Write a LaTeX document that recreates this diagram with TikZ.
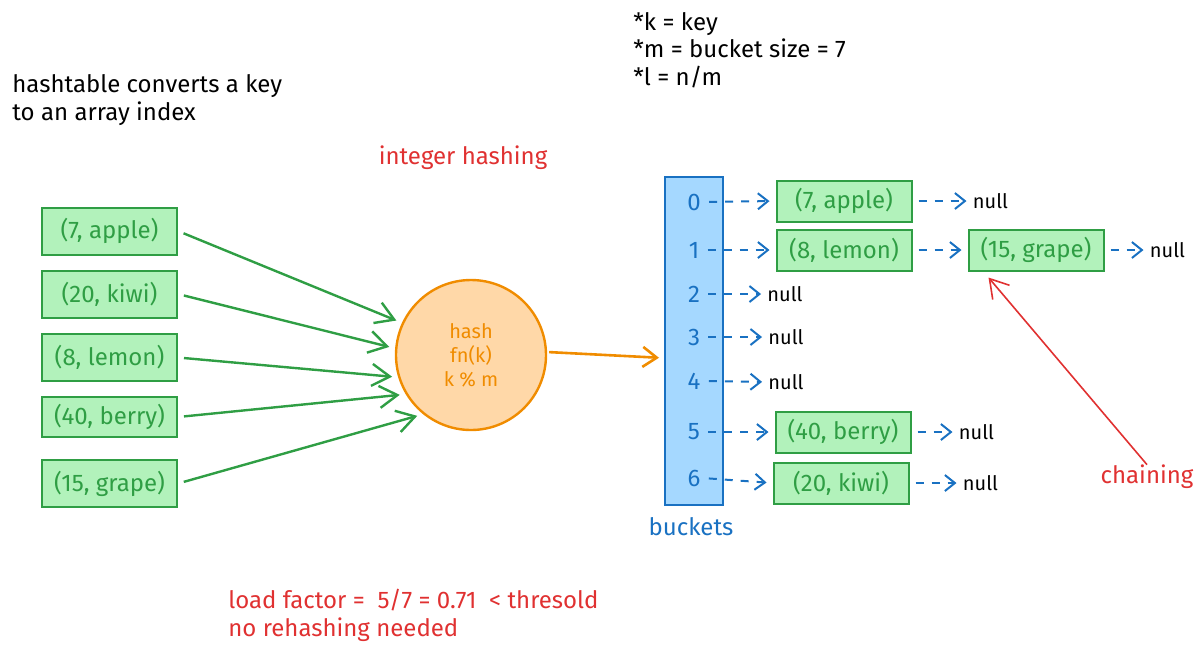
\documentclass[tikz,border=0pt]{standalone}
\usepackage{fontspec}
\setmainfont{Fira Sans}
\usetikzlibrary{arrows.meta,positioning}

\definecolor{pairgreen}{HTML}{2F9E44}
\definecolor{pairfill}{HTML}{B2F2BB}
\definecolor{bucketblue}{HTML}{1971C2}
\definecolor{bucketfill}{HTML}{A5D8FF}
\definecolor{hashorange}{HTML}{F08C00}
\definecolor{hashfill}{HTML}{FFD8A8}
\definecolor{notered}{HTML}{E03131}

\begin{document}
\begin{tikzpicture}[
        x=0.5pt, y=-0.5pt,
        pair/.style={draw=pairgreen, fill=pairfill, line width=1pt, text=pairgreen, inner sep=0pt,
          minimum width=67.5pt, minimum height=23.5pt, font=\fontsize{12}{14}\selectfont},
        link/.style={pair, minimum height=20.5pt},
        nil/.style={inner sep=0pt, font=\fontsize{10}{12}\selectfont},
        idx/.style={text=bucketblue, inner sep=1pt, font=\fontsize{12}{14}\selectfont},
        note/.style={anchor=base west, align=left, inner sep=0pt, font=\fontsize{12}{13.75}\selectfont},
        remark/.style={text=notered, inner sep=0pt, font=\fontsize{12}{14}\selectfont},
        feed/.style={draw=pairgreen, line width=1.2pt, shorten <=3pt, shorten >=3pt,
          -{Straight Barb[length=9pt, width=11pt, line width=1.2pt]}},
        hop/.style={draw=bucketblue, line width=1pt, dash pattern=on 4pt off 4pt, shorten <=3pt, shorten >=3pt,
          -{Straight Barb[length=5pt, width=8pt, line width=1pt]}},
        hashout/.style={draw=hashorange, line width=1.3pt, shorten <=1pt, shorten >=2.5pt,
          -{Straight Barb[length=7pt, width=10pt, line width=1.3pt]}},
        pointer/.style={draw=notered, line width=0.8pt,
          -{Straight Barb[length=9pt, width=11pt, line width=0.8pt]}}
      ]
        \useasboundingbox (0,0) rectangle (1200,655);

        % notes (base = last line)
        \node[note] (intro) at (12,120) {hashtable converts a key\\to an array index};
        \node[note] (legend) at (633,85) {*k = key\\*m = bucket size = 7\\*l = n/m};
        \node[note, text=notered] (load) at (228,636) {load factor = \ 5/7 = 0.71 \ < thresold\\no rehashing needed};
        \node[remark] (inthash) at (463,158) {integer hashing};

        % input pairs
        \node[pair] (kapple) at (109.5,231) {(7, apple)};
        \node[pair] (kkiwi) at (109.5,294) {(20, kiwi)};
        \node[pair] (klemon) at (109.5,357.5) {(8, lemon)};
        \node[pair, minimum height=20pt] (kberry) at (109.5,417) {(40, berry)};
        \node[pair] (kgrape) at (109.5,483.5) {(15, grape)};

        % hash function
        \node[circle, draw=hashorange, fill=hashfill, line width=1.2pt, minimum size=75pt, inner sep=0pt,
          text=hashorange, align=center, font=\fontsize{10}{12}\selectfont] (hash) at (471,355) {hash\\fn(k)\\k \% m};

        \draw[feed] (kapple.east) -- (hash.155);
        \draw[feed] (kkiwi.east) -- (hash.175);
        \draw[feed] (klemon.east) -- (hash.197);
        \draw[feed] (kberry.east) -- (hash.211);
        \draw[feed] (kgrape.east) -- (hash.231);

        % bucket array
        \node[draw=bucketblue, fill=bucketfill, line width=1pt, minimum width=29pt, minimum height=164pt,
          inner sep=0pt] (buckets) at (694,341) {};
        \node[idx] (bucketlabel) at (691,527) {buckets};
        \draw[hashout] ([yshift=1.5pt]hash.east) -- ([yshift=-8.5pt]buckets.west);

        \foreach \i/\y in {0/202,1/250,2/294,3/337,4/381,5/432,6/478}
          \node[idx] (i\i) at (694,\y) {\i};

        % chains
        \node[link] (bapple) at (844,201) {(7, apple)};
        \node[link] (blemon) at (844,250) {(8, lemon)};
        \node[link] (bgrape) at (1036,250) {(15, grape)};
        \node[link] (bberry) at (843,432) {(40, berry)};
        \node[link] (bkiwi) at (841,483) {(20, kiwi)};

        \node[nil, right=30pt of bapple] (n0) {null};
        \node[nil, right=22.5pt of bgrape] (n1) {null};
        \node[nil] (n2) at (785,294) {null};
        \node[nil] (n3) at (786,337) {null};
        \node[nil] (n4) at (786,382) {null};
        \node[nil, right=23.5pt of bberry] (n5) {null};
        \node[nil, right=26.5pt of bkiwi] (n6) {null};

        \draw[hop] (i0.east) -- (bapple.west);
        \draw[hop] (i1.east) -- (blemon.west);
        \draw[hop] (i2.east) -- (n2.west);
        \draw[hop] (i3.east) -- (n3.west);
        \draw[hop] (i4.east) -- (n4.west);
        \draw[hop] (i5.east) -- (bberry.west);
        \draw[hop] (i6.east) -- (bkiwi.west);
        \draw[hop] (bapple.east) -- (n0.west);
        \draw[hop] (blemon.east) -- (bgrape.west);
        \draw[hop] (bgrape.east) -- (n1.west);
        \draw[hop] (bberry.east) -- (n5.west);
        \draw[hop] (bkiwi.east) -- (n6.west);

        % chaining note
        \node[remark] (chaining) at (1147,477) {chaining};
        \draw[pointer] (chaining.north) -- ([xshift=10.5pt,yshift=-3pt]bgrape.south west);
      \end{tikzpicture}
\end{document}
